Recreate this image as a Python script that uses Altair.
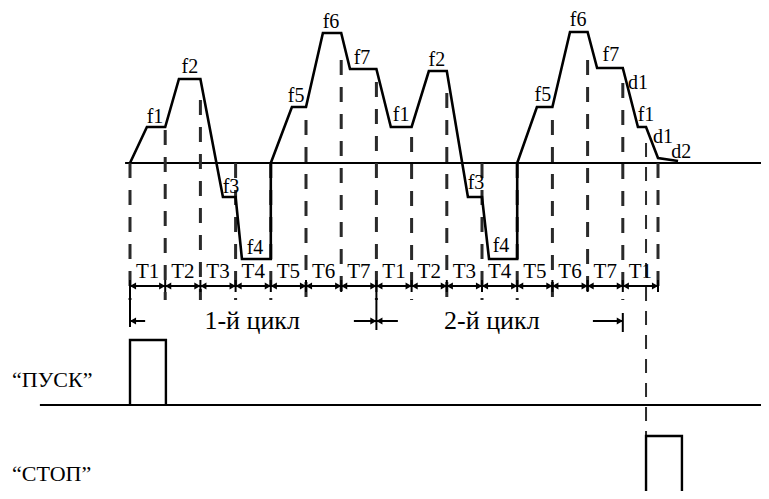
import altair as alt
import pandas as pd

# ---- data (time in units of T, frequency in relative units; 0 = zero line) ----
wave_t = [0, 0.48, 1.0, 1.39, 2.0, 2.64, 3.0, 3.18, 4.0, 4.0, 4.6, 5.0, 5.48, 6.0, 6.25, 7.0,
          7.41, 8.0, 8.49, 9.0, 9.6, 10.0, 10.2, 11.0, 11.0, 11.56, 12.0, 12.5, 13.0, 13.27, 14.0,
          14.43, 14.66, 15.0, 15.57]
wave_f = [0, 36, 36, 84, 84, -34, -34, -96, -96, 0, 56, 56, 130, 130, 94, 94,
          36, 36, 92, 92, -34, -34, -96, -96, 0, 56, 56, 131, 131, 95, 95,
          36, 36, 5, 2]

bound_t = [0, 1, 2, 3, 4, 5, 6, 7, 8, 9, 10, 11, 12, 13, 14, 15]
dash_top = [0, 33, 63, 0, 0, 43, 103, 81, 26, 70, 0, 0, 43, 103, 80, 0]
dash_bottom = [-137, -137, -137, -137, -137, -137, -137, -137, -137, -137, -137, -137, -137, -137, -137, -132]

flabels = ["f1", "f2", "f3", "f4", "f5", "f6", "f7", "f1", "f2", "f3", "f4", "f5", "f6", "f7",
           "d1", "f1", "d1", "d2"]
flabel_t = [0.71, 1.70, 2.87, 3.55, 4.72, 5.71, 6.59, 7.70, 8.72, 9.83, 10.54, 11.73, 12.73, 13.66,
            14.43, 14.66, 15.14, 15.66]
flabel_f = [46, 96, -24, -85, 67, 141, 105, 48, 103, -20, -83, 68, 143, 108, 80, 48, 26, 11]

tlabels = ["T1", "T2", "T3", "T4", "T5", "T6", "T7", "T1", "T2", "T3", "T4", "T5", "T6", "T7", "T1"]
t_row_f = -109
arrow_row_f = -123

cycle_labels = ["1-й цикл", "2-й цикл"]
cycle_label_t = [3.47, 10.28]
cycle_row_f = -158

stop_t = 14.66
pusk_t = [0, 0, 1.02, 1.02]
pusk_f = [-242, -177, -177, -242]
stop_pt = [14.66, 14.66, 15.68, 15.68]
stop_pf = [-345, -273, -273, -345]

signal_names = ["“ПУСК”", "“СТОП”"]
signal_f = [-217, -311]

FONT = "Liberation Serif"
X = alt.Scale(domain=[-3.466, 17.926], nice=False, zero=False)
Y = alt.Scale(domain=[-328, 155], nice=False, zero=False)


def xe(field="t"):
    return alt.X(f"{field}:Q", scale=X, axis=None)


def ye(field="f"):
    return alt.Y(f"{field}:Q", scale=Y, axis=None)


def label_layer(df, size, align="center"):
    return alt.Chart(df).mark_text(font=FONT, fontSize=size, align=align).encode(
        x=xe(), y=ye(), text="s:N")


# zero line of frequency
zero_df = pd.DataFrame({"t": [-0.14], "t2": [18.5], "f": [0]})
zero_line = alt.Chart(zero_df).mark_rule(color="black", strokeWidth=2).encode(
    x=xe(), x2="t2:Q", y=ye())

# waveform
wave_df = pd.DataFrame({"t": wave_t, "f": wave_f, "i": list(range(len(wave_t)))})
wave = alt.Chart(wave_df).mark_line(color="black", strokeWidth=2.6, strokeJoin="miter").encode(
    x=xe(), y=ye(), order="i:Q")

# dashed verticals
dash_df = pd.DataFrame({"t": bound_t, "f": dash_top, "f2": dash_bottom})
dashes = alt.Chart(dash_df).mark_rule(color="#2a2a2a", strokeWidth=3, strokeDash=[15, 12]).encode(
    x=xe(), y=ye(), y2="f2:Q")

stop_dash_df = pd.DataFrame({"t": [stop_t], "f": [20], "f2": [-273]})
stop_dash = alt.Chart(stop_dash_df).mark_rule(color="#2a2a2a", strokeWidth=2, strokeDash=[14, 10]).encode(
    x=xe(), y=ye(), y2="f2:Q")

ftext = label_layer(pd.DataFrame({"t": flabel_t, "f": flabel_f, "s": flabels}), 20)
ttext = label_layer(pd.DataFrame({"t": [b + 0.5 for b in bound_t[:-1]], "f": [t_row_f] * 15, "s": tlabels}), 21)

# arrow row
arow_df = pd.DataFrame({"t": [0], "t2": [15], "f": [arrow_row_f]})
arow = alt.Chart(arow_df).mark_rule(color="black", strokeWidth=2).encode(x=xe(), x2="t2:Q", y=ye())
tick_df = pd.DataFrame({"t": bound_t, "f": [arrow_row_f + 6] * 16, "f2": [arrow_row_f - 6] * 16})
ticks = alt.Chart(tick_df).mark_rule(color="black", strokeWidth=2).encode(x=xe(), y=ye(), y2="f2:Q")
ar_r = pd.DataFrame({"t": bound_t[1:], "f": [arrow_row_f] * 15})
ar_l = pd.DataFrame({"t": bound_t[:-1], "f": [arrow_row_f] * 15})
heads_r = alt.Chart(ar_r).mark_point(shape="triangle-right", filled=True, size=50, color="black",
                                     opacity=1, xOffset=-3).encode(x=xe(), y=ye())
heads_l = alt.Chart(ar_l).mark_point(shape="triangle-left", filled=True, size=50, color="black",
                                     opacity=1, xOffset=3).encode(x=xe(), y=ye())

# cycle row
cyc_bars = pd.DataFrame({"t": [0, 7, 14], "f": [arrow_row_f, arrow_row_f, -150], "f2": [-164, -167, -169]})
cbars = alt.Chart(cyc_bars).mark_rule(color="black", strokeWidth=2).encode(x=xe(), y=ye(), y2="f2:Q")
cyc_lines = pd.DataFrame({"t": [0, 6.36, 7, 13.15], "t2": [0.43, 7, 7.61, 14], "f": [cycle_row_f] * 4})
clines = alt.Chart(cyc_lines).mark_rule(color="black", strokeWidth=2).encode(x=xe(), x2="t2:Q", y=ye())
c_r = pd.DataFrame({"t": [7, 14], "f": [cycle_row_f] * 2})
c_l = pd.DataFrame({"t": [0, 7], "f": [cycle_row_f] * 2})
cheads_r = alt.Chart(c_r).mark_point(shape="triangle-right", filled=True, size=50, color="black",
                                     opacity=1, xOffset=-3).encode(x=xe(), y=ye())
cheads_l = alt.Chart(c_l).mark_point(shape="triangle-left", filled=True, size=50, color="black",
                                     opacity=1, xOffset=3).encode(x=xe(), y=ye())
ctext = label_layer(pd.DataFrame({"t": cycle_label_t, "f": [cycle_row_f] * 2, "s": cycle_labels}), 26)

# ПУСК / СТОП signals
pusk_base_df = pd.DataFrame({"t": [-2.56], "t2": [18.5], "f": [-242]})
pusk_base = alt.Chart(pusk_base_df).mark_rule(color="black", strokeWidth=2).encode(x=xe(), x2="t2:Q", y=ye())
pusk_df = pd.DataFrame({"t": pusk_t, "f": pusk_f, "i": [0, 1, 2, 3]})
pusk = alt.Chart(pusk_df).mark_line(color="black", strokeWidth=2.4, strokeJoin="miter").encode(
    x=xe(), y=ye(), order="i:Q")
stop_df = pd.DataFrame({"t": stop_pt, "f": stop_pf, "i": [0, 1, 2, 3]})
stop = alt.Chart(stop_df).mark_line(color="black", strokeWidth=2.4, strokeJoin="miter").encode(
    x=xe(), y=ye(), order="i:Q")
sigtext = label_layer(pd.DataFrame({"t": [-3.35, -3.35], "f": signal_f, "s": signal_names}), 22, "left")

chart = alt.layer(
    zero_line, dashes, stop_dash, wave, ftext, ttext, arow, ticks, heads_r, heads_l,
    cbars, clines, cheads_r, cheads_l, ctext, pusk_base, pusk, stop, sigtext
).properties(
    width=753, height=483, padding=0, autosize=alt.AutoSizeParams(type="none")
).configure_view(stroke=None).configure_text(font=FONT, color="black")

chart.save("out.html", embed_options={"renderer": "svg", "actions": False})
